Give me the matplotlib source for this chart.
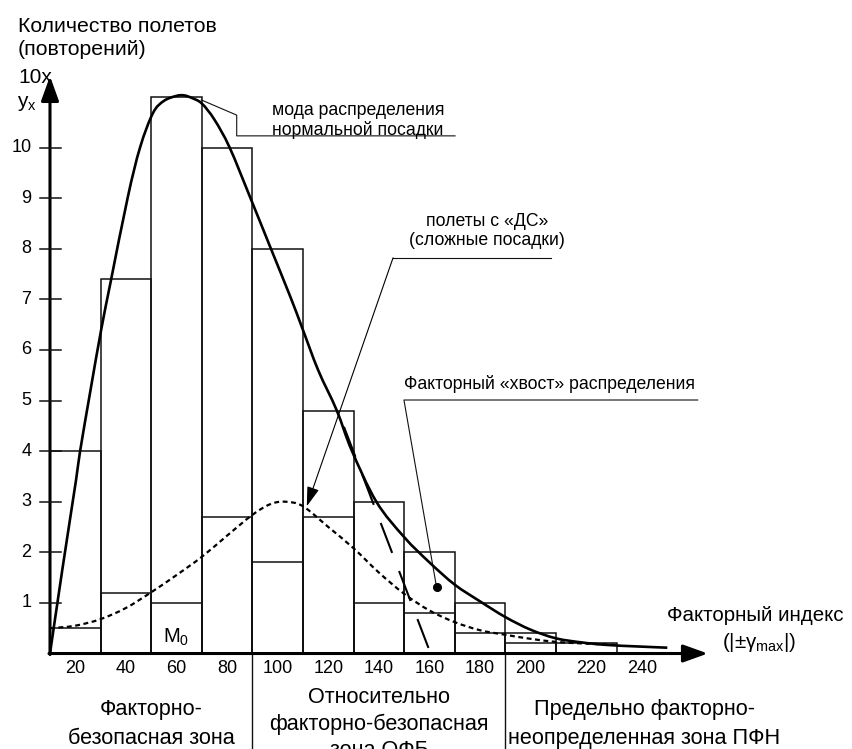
import matplotlib
matplotlib.use("Agg")
import matplotlib.pyplot as plt
from matplotlib.path import Path
from matplotlib.patches import PathPatch
import numpy as np

plt.rcParams['font.family'] = ['Liberation Sans', 'DejaVu Sans']
plt.rcParams['mathtext.fontset'] = 'custom'
plt.rcParams['mathtext.rm'] = 'Liberation Sans'
plt.rcParams['mathtext.it'] = 'Liberation Sans'
plt.rcParams['mathtext.bf'] = 'Liberation Sans'

# histogram: left edges, widths, total and "difficult landing" heights
bin_left = [10, 30, 50, 70, 90, 110, 130, 150, 170, 190, 210]
bin_width = [20, 20, 20, 20, 20, 20, 20, 20, 20, 20, 24]
total_h = [4.0, 7.4, 11.0, 10.0, 8.0, 4.8, 3.0, 2.0, 1.0, 0.4, 0.2]
inner_h = [0.5, 1.2, 1.0, 2.7, 1.8, 2.7, 1.0, 0.8, 0.4, 0.2, 0.0]

# normal landing distribution (solid curve)
norm_x = [10, 15, 20.3, 21.9, 26, 30.2, 34, 40.8, 45.6, 50.7, 55, 60, 63, 66, 70,
          75, 81, 89, 97, 105, 109.5, 116, 123.3, 129.2, 139, 150, 160, 170,
          180, 190, 200, 210, 220, 230, 242, 254]
norm_y = [0, 1.7, 3.43, 4.0, 5.2, 6.39, 7.35, 9.03, 10.0, 10.68, 10.92, 11.02, 11.03,
          10.98, 10.87, 10.55, 10.0, 9.03, 8.04, 7.05, 6.46, 5.6, 4.81, 4.02, 3.0,
          2.3, 1.8, 1.36, 1.03, 0.72, 0.47, 0.3, 0.22, 0.17, 0.14, 0.115]

# difficult landings distribution (dotted curve)
ds_x = [10, 20, 30, 40, 50, 60, 70, 80, 90, 97, 103, 110, 120, 130, 140, 150, 160,
        170, 180, 190, 200, 210, 220, 234]
ds_y = [0.5, 0.55, 0.68, 0.9, 1.21, 1.55, 1.91, 2.33, 2.74, 2.95, 3.0, 2.91, 2.5,
        2.08, 1.6, 1.18, 0.85, 0.62, 0.46, 0.37, 0.29, 0.23, 0.2, 0.17]

# factor tail (long-dash line)
tail_x = [126.2, 159.6]
tail_y = [4.48, 0.11]

y_ticks = [1, 2, 3, 4, 5, 6, 7, 8, 9, 10]
x_tick_pos = [20, 40, 60, 80, 100, 120, 140, 160, 180, 200, 224, 244]
x_tick_lab = ['20', '40', '60', '80', '100', '120', '140', '160', '180', '200', '220', '240']
zone_bounds = [90, 190]


def smooth_path(xs, ys):
    # Catmull-Rom through the read points, drawn as cubic Bezier segments
    p = np.column_stack([xs, ys]).astype(float)
    p = np.vstack([p[0], p, p[-1]])
    verts = [p[1]]
    codes = [Path.MOVETO]
    for i in range(1, len(p) - 2):
        c1 = p[i] + (p[i + 1] - p[i - 1]) / 6.0
        c2 = p[i + 1] - (p[i + 2] - p[i]) / 6.0
        verts += [c1, c2, p[i + 1]]
        codes += [Path.CURVE4] * 3
    return Path(verts, codes)


fig = plt.figure(figsize=(8.53, 7.49), dpi=100)
ax = fig.add_axes([0, 0, 1, 1])
ax.set_xlim(-9.76, 327.4)
ax.set_ylim(-1.887, 12.915)
ax.axis('off')

k = '#111111'
ax.bar(bin_left, total_h, width=bin_width, align='edge', fill=False,
       edgecolor=k, linewidth=1.1, zorder=2)
ax.bar(bin_left, inner_h, width=bin_width, align='edge', fill=False,
       edgecolor=k, linewidth=1.1, zorder=2)

ax.add_patch(PathPatch(smooth_path(norm_x, norm_y), fill=False, edgecolor='k',
                       lw=1.9, zorder=4))
ax.add_patch(PathPatch(smooth_path(ds_x, ds_y), fill=False, edgecolor='k',
                       lw=1.6, ls=(0, (2.2, 1.6)), zorder=4))
ax.plot(tail_x, tail_y, color='k', lw=1.5, ls=(0, (15.4, 9.3)), zorder=4)

# axes with arrows
ax.annotate('', xy=(10, 11.41), xytext=(10, -0.02),
            arrowprops=dict(arrowstyle='-|>,head_length=0.75,head_width=0.27',
                            mutation_scale=20, lw=2.2, color='k',
                            shrinkA=0, shrinkB=0), zorder=5)
ax.annotate('', xy=(270, 0), xytext=(9.6, 0),
            arrowprops=dict(arrowstyle='-|>,head_length=0.75,head_width=0.27',
                            mutation_scale=20, lw=2.2, color='k',
                            shrinkA=0, shrinkB=0), zorder=5)

for t in y_ticks:
    ax.plot([6.05, 14.2], [t, t], color=k, lw=1.1, zorder=5)
    ax.text(2.6, t, str(t), ha='right', va='center', fontsize=13)
for p, s in zip(x_tick_pos, x_tick_lab):
    ax.text(p, -0.29, s, ha='center', va='center', fontsize=13)

for b in zone_bounds:
    ax.plot([b, b], [0, -1.9], color=k, lw=1.0, clip_on=False)

# axis titles
ax.text(-2.65, 12.29, 'Количество полетов', fontsize=15.3, va='baseline')
ax.text(-2.65, 11.83, '(повторений)', fontsize=15.3, va='baseline')
ax.text(-2.65, 11.27, '10x', fontsize=15, va='baseline')
ax.text(-3.2, 10.8, r'y$_{\mathregular{x}}$', fontsize=15, va='baseline')
ax.text(253.9, 0.65, 'Факторный индекс', fontsize=14.8, va='baseline')
ax.text(290.2, 0.10, r'(|±γ$_{\mathregular{max}}$|)', fontsize=14.8,
        va='baseline', ha='center')
ax.text(60, 0.31, r'M$_{\mathregular{0}}$', fontsize=14.5, ha='center', va='center')

# annotations
ax.plot([69.8, 83.8, 83.8, 170.1], [10.94, 10.64, 10.23, 10.23], color=k, lw=0.8)
ax.text(131.8, 10.64, 'мода распределения', fontsize=12.7, ha='center', va='baseline')
ax.text(131.8, 10.25, 'нормальной посадки', fontsize=12.7, ha='center', va='baseline')

ax.plot([208, 145.6], [7.82, 7.82], color=k, lw=0.8)
ax.annotate('', xy=(111.5, 2.91), xytext=(145.6, 7.82),
            arrowprops=dict(arrowstyle='-|>,head_length=0.8,head_width=0.25',
                            mutation_scale=15, lw=0.8, color='k',
                            shrinkA=0, shrinkB=0))
ax.text(182.9, 8.44, 'полеты с «ДС»', fontsize=12.7, ha='center', va='baseline')
ax.text(182.9, 8.07, '(сложные посадки)', fontsize=12.7, ha='center', va='baseline')

ax.plot([266, 149.9, 162.8], [5.01, 5.01, 1.31], color=k, lw=0.8)
ax.plot([162.8], [1.31], 'o', color='k', ms=5.5)
ax.text(207.6, 5.23, 'Факторный «хвост» распределения', fontsize=12.7,
        ha='center', va='baseline')

# zone labels
ax.text(50, -1.22, 'Факторно-', fontsize=15.6, ha='center', va='baseline')
ax.text(50, -1.79, 'безопасная зона', fontsize=15.6, ha='center', va='baseline')
ax.text(140, -0.98, 'Относительно', fontsize=15.6, ha='center', va='baseline')
ax.text(140, -1.51, 'факторно-безопасная', fontsize=15.6, ha='center', va='baseline')
ax.text(140, -2.03, 'зона ОФБ', fontsize=15.6, ha='center', va='baseline')
ax.text(245, -1.22, 'Предельно факторно-', fontsize=15.6, ha='center', va='baseline')
ax.text(245, -1.79, 'неопределенная зона ПФН', fontsize=15.6, ha='center', va='baseline')

fig.savefig('out.png', dpi=100)
